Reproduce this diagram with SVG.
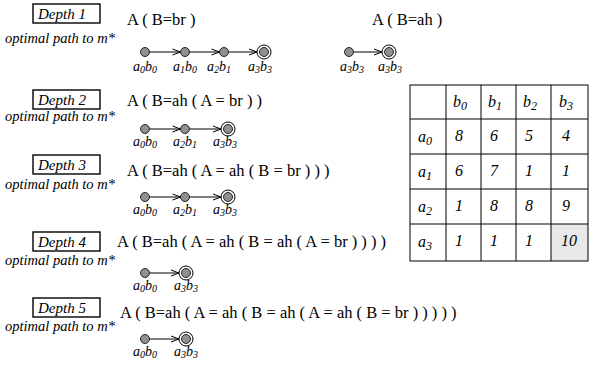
<svg xmlns="http://www.w3.org/2000/svg" width="595" height="369" viewBox="0 0 595 369" font-family="'Liberation Serif', 'Times New Roman', serif">
<defs>
<marker id="arr" markerWidth="10" markerHeight="8" refX="9" refY="4" orient="auto" markerUnits="userSpaceOnUse">
<path d="M1,1 L9,4 L1,7" fill="none" stroke="#000" stroke-width="1"/>
</marker>
</defs>
<style>
text{font-family:'Liberation Serif','Times New Roman',serif}
.box{fill:#fff;stroke:#000;stroke-width:1.4}
.dl{font-style:italic;font-size:15px}
.ex{font-size:16.5px}
.op{font-style:italic;font-size:14.5px}
.lb{font-style:italic;font-size:14px}
.n{fill:#909090;stroke:#000;stroke-width:0.8}
.o{fill:none;stroke:#000;stroke-width:1}
.e{stroke:#000;stroke-width:1;marker-end:url(#arr)}
.tb{font-style:italic;font-size:16px;text-anchor:middle}
.grid{stroke:#000;stroke-width:1;fill:none}
</style>
<rect width="595" height="369" fill="#fff"/>

<g id="depth1">
<rect class="box" x="33" y="4" width="67" height="19"/>
<text class="dl" x="38" y="19">Depth 1</text>
<text class="ex" x="127" y="25">A ( B=br )</text>
<text class="op" x="5" y="43">optimal path to m*</text>
<circle class="n" cx="145" cy="52" r="4.5"/>
<circle class="n" cx="185" cy="52" r="4.5"/>
<circle class="n" cx="224" cy="52" r="4.5"/>
<circle class="n" cx="264" cy="52" r="4.5"/><circle class="o" cx="264" cy="52" r="7"/>
<text class="lb" y="71"><tspan x="133">a</tspan><tspan font-size="10" dy="2">0</tspan><tspan dy="-2">b</tspan><tspan font-size="10" dy="2">0</tspan></text>
<text class="lb" y="71"><tspan x="173">a</tspan><tspan font-size="10" dy="2">1</tspan><tspan dy="-2">b</tspan><tspan font-size="10" dy="2">0</tspan></text>
<text class="lb" y="71"><tspan x="207">a</tspan><tspan font-size="10" dy="2">2</tspan><tspan dy="-2">b</tspan><tspan font-size="10" dy="2">1</tspan></text>
<text class="lb" y="71"><tspan x="248">a</tspan><tspan font-size="10" dy="2">3</tspan><tspan dy="-2">b</tspan><tspan font-size="10" dy="2">3</tspan></text>
</g>

<g id="depth1b">
<text class="ex" x="372" y="25">A ( B=ah )</text>
<circle class="n" cx="349" cy="52" r="4.5"/>
<circle class="n" cx="389" cy="52" r="4.5"/><circle class="o" cx="389" cy="52" r="7"/>
<text class="lb" y="71"><tspan x="340">a</tspan><tspan font-size="10" dy="2">3</tspan><tspan dy="-2">b</tspan><tspan font-size="10" dy="2">3</tspan></text>
<text class="lb" y="71"><tspan x="378">a</tspan><tspan font-size="10" dy="2">3</tspan><tspan dy="-2">b</tspan><tspan font-size="10" dy="2">3</tspan></text>
</g>

<g id="depth2">
<rect class="box" x="33" y="90" width="67" height="19"/>
<text class="dl" x="38" y="105">Depth 2</text>
<text class="ex" x="127" y="106">A ( B=ah ( A = br ) )</text>
<text class="op" x="5" y="121">optimal path to m*</text>
<circle class="n" cx="145" cy="129" r="4.5"/>
<circle class="n" cx="185" cy="129" r="4.5"/>
<circle class="n" cx="228" cy="129" r="4.5"/><circle class="o" cx="228" cy="129" r="7"/>
<text class="lb" y="146"><tspan x="133">a</tspan><tspan font-size="10" dy="2">0</tspan><tspan dy="-2">b</tspan><tspan font-size="10" dy="2">0</tspan></text>
<text class="lb" y="146"><tspan x="173">a</tspan><tspan font-size="10" dy="2">2</tspan><tspan dy="-2">b</tspan><tspan font-size="10" dy="2">1</tspan></text>
<text class="lb" y="146"><tspan x="213">a</tspan><tspan font-size="10" dy="2">3</tspan><tspan dy="-2">b</tspan><tspan font-size="10" dy="2">3</tspan></text>
</g>

<g id="depth3">
<rect class="box" x="33" y="155" width="67" height="19"/>
<text class="dl" x="38" y="170">Depth 3</text>
<text class="ex" x="127" y="176">A ( B=ah ( A = ah ( B = br ) ) )</text>
<text class="op" x="5" y="189">optimal path to m*</text>
<circle class="n" cx="145" cy="197" r="4.5"/>
<circle class="n" cx="185" cy="197" r="4.5"/>
<circle class="n" cx="228" cy="197" r="4.5"/><circle class="o" cx="228" cy="197" r="7"/>
<text class="lb" y="214"><tspan x="133">a</tspan><tspan font-size="10" dy="2">0</tspan><tspan dy="-2">b</tspan><tspan font-size="10" dy="2">0</tspan></text>
<text class="lb" y="214"><tspan x="173">a</tspan><tspan font-size="10" dy="2">2</tspan><tspan dy="-2">b</tspan><tspan font-size="10" dy="2">1</tspan></text>
<text class="lb" y="214"><tspan x="213">a</tspan><tspan font-size="10" dy="2">3</tspan><tspan dy="-2">b</tspan><tspan font-size="10" dy="2">3</tspan></text>
</g>

<g id="depth4">
<rect class="box" x="33" y="232" width="67" height="19"/>
<text class="dl" x="38" y="247">Depth 4</text>
<text class="ex" x="117" y="247">A ( B=ah ( A = ah ( B = ah ( A = br ) ) ) )</text>
<text class="op" x="5" y="265">optimal path to m*</text>
<circle class="n" cx="145" cy="273" r="4.5"/>
<circle class="n" cx="186" cy="273" r="4.5"/><circle class="o" cx="186" cy="273" r="7"/>
<text class="lb" y="290"><tspan x="133">a</tspan><tspan font-size="10" dy="2">0</tspan><tspan dy="-2">b</tspan><tspan font-size="10" dy="2">0</tspan></text>
<text class="lb" y="290"><tspan x="174">a</tspan><tspan font-size="10" dy="2">3</tspan><tspan dy="-2">b</tspan><tspan font-size="10" dy="2">3</tspan></text>
</g>

<g id="depth5">
<rect class="box" x="33" y="298" width="67" height="19"/>
<text class="dl" x="38" y="313">Depth 5</text>
<text class="ex" x="120" y="318">A ( B=ah ( A = ah ( B = ah ( A = ah ( B = br ) ) ) ) )</text>
<text class="op" x="5" y="331">optimal path to m*</text>
<circle class="n" cx="145" cy="339" r="4.5"/>
<circle class="n" cx="186" cy="339" r="4.5"/><circle class="o" cx="186" cy="339" r="7"/>
<text class="lb" y="356"><tspan x="133">a</tspan><tspan font-size="10" dy="2">0</tspan><tspan dy="-2">b</tspan><tspan font-size="10" dy="2">0</tspan></text>
<text class="lb" y="356"><tspan x="174">a</tspan><tspan font-size="10" dy="2">3</tspan><tspan dy="-2">b</tspan><tspan font-size="10" dy="2">3</tspan></text>
</g>

<g id="connectors">
<line class="e" x1="149.5" y1="52" x2="180.5" y2="52"/>
<line class="e" x1="189.5" y1="52" x2="219.5" y2="52"/>
<line class="e" x1="228.5" y1="52" x2="257" y2="52"/>
<line class="e" x1="353.5" y1="52" x2="382" y2="52"/>
<line class="e" x1="149.5" y1="129" x2="180.5" y2="129"/>
<line class="e" x1="189.5" y1="129" x2="221" y2="129"/>
<line class="e" x1="149.5" y1="197" x2="180.5" y2="197"/>
<line class="e" x1="189.5" y1="197" x2="221" y2="197"/>
<line class="e" x1="149.5" y1="273" x2="179" y2="273"/>
<line class="e" x1="149.5" y1="339" x2="179" y2="339"/>
</g>

<g id="table">
<rect x="551" y="224" width="37" height="37" fill="#e8e8e8"/>
<rect class="grid" x="410" y="85" width="178" height="176" stroke-width="1.5"/>
<line class="grid" x1="446" y1="85" x2="446" y2="261" stroke-width="1.5"/>
<line class="grid" x1="481" y1="85" x2="481" y2="261"/>
<line class="grid" x1="516" y1="85" x2="516" y2="261"/>
<line class="grid" x1="551" y1="85" x2="551" y2="261"/>
<line class="grid" x1="410" y1="119" x2="588" y2="119" stroke-width="1.5"/>
<line class="grid" x1="410" y1="154" x2="588" y2="154"/>
<line class="grid" x1="410" y1="189" x2="588" y2="189"/>
<line class="grid" x1="410" y1="224" x2="588" y2="224"/>
<text class="tb" y="107"><tspan x="460">b</tspan><tspan font-size="12" dy="3">0</tspan></text>
<text class="tb" y="107"><tspan x="495">b</tspan><tspan font-size="12" dy="3">1</tspan></text>
<text class="tb" y="107"><tspan x="530">b</tspan><tspan font-size="12" dy="3">2</tspan></text>
<text class="tb" y="107"><tspan x="566">b</tspan><tspan font-size="12" dy="3">3</tspan></text>
<text class="tb" y="142"><tspan x="425">a</tspan><tspan font-size="12" dy="3">0</tspan></text>
<text class="tb" y="177"><tspan x="425">a</tspan><tspan font-size="12" dy="3">1</tspan></text>
<text class="tb" y="212"><tspan x="425">a</tspan><tspan font-size="12" dy="3">2</tspan></text>
<text class="tb" y="247"><tspan x="425">a</tspan><tspan font-size="12" dy="3">3</tspan></text>
<text class="tb" x="459" y="141">8</text><text class="tb" x="494" y="141">6</text><text class="tb" x="529" y="141">5</text><text class="tb" x="566" y="141">4</text>
<text class="tb" x="459" y="176">6</text><text class="tb" x="494" y="176">7</text><text class="tb" x="529" y="176">1</text><text class="tb" x="566" y="176">1</text>
<text class="tb" x="459" y="211">1</text><text class="tb" x="494" y="211">8</text><text class="tb" x="529" y="211">8</text><text class="tb" x="566" y="211">9</text>
<text class="tb" x="459" y="246">1</text><text class="tb" x="494" y="246">1</text><text class="tb" x="529" y="246">1</text><text class="tb" x="569" y="246">10</text>
</g>
</svg>
